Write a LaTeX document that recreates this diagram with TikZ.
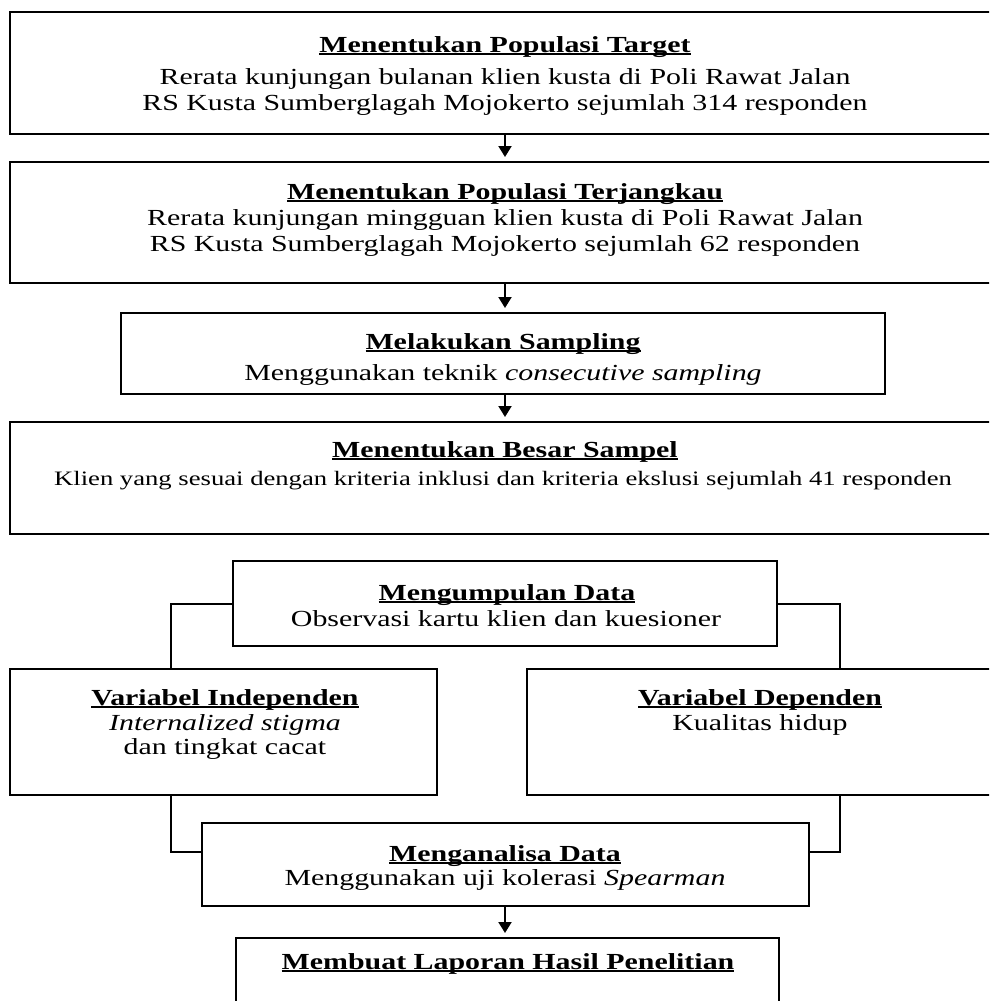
\documentclass[tikz,border=0pt]{standalone}
\usepackage{fontspec}
\setmainfont{Liberation Serif}[FakeStretch=1.3]
\usetikzlibrary{arrows.meta}
\newcommand\ttl[1]{\sbox0{\bfseries #1}\rlap{\rule[-3.2pt]{\wd0}{1.8pt}}\usebox0}
\begin{document}
\begin{tikzpicture}[x=1pt,y=-1pt,
  box/.style={draw, line width=2pt, inner sep=0pt},
  txt/.style={anchor=base, inner sep=0pt, font=\fontsize{23}{26}\selectfont},
  txts/.style={anchor=base, inner sep=0pt, font=\fontsize{20.5}{24}\selectfont},
  arr/.style={line width=2pt, -{Triangle[length=11pt,width=13pt]}, shorten >=4pt},
  conn/.style={line width=2pt}]
\useasboundingbox (0,0) rectangle (989,1001);
\fill[white] (0,0) rectangle (989,1001);
\clip (0,0) rectangle (989,1001);
% boxes
\node[box, minimum width=990pt, minimum height=122pt] (b1) at (505,73) {};
\node[box, minimum width=990pt, minimum height=121pt] (b2) at (505,222.5) {};
\node[box, minimum width=764pt, minimum height=81pt] (b3) at (503,353.5) {};
\node[box, minimum width=990pt, minimum height=112pt] (b4) at (505,478) {};
\node[box, minimum width=544pt, minimum height=85pt] (b5) at (505,603.5) {};
\node[box, minimum width=427pt, minimum height=126pt] (b6) at (223.5,731.5) {};
\node[box, minimum width=466pt, minimum height=126pt] (b7) at (760,732) {};
\node[box, minimum width=607pt, minimum height=83pt] (b8) at (505.5,864.5) {};
\node[box, minimum width=543pt, minimum height=92pt] (b9) at (507.5,984) {};
% texts
\node[txt] (t1a) at (505,52) {\ttl{Menentukan Populasi Target}};
\node[txt] (t1b) at (505,84) {Rerata kunjungan bulanan klien kusta di Poli Rawat Jalan};
\node[txt] (t1c) at (505,110) {RS Kusta Sumberglagah Mojokerto sejumlah 314 responden};
\node[txt] (t2a) at (505,199) {\ttl{Menentukan Populasi Terjangkau}};
\node[txt] (t2b) at (505,225) {Rerata kunjungan mingguan klien kusta di Poli Rawat Jalan};
\node[txt] (t2c) at (505,251) {RS Kusta Sumberglagah Mojokerto sejumlah 62 responden};
\node[txt] (t3a) at (503,349) {\ttl{Melakukan Sampling}};
\node[txt] (t3b) at (503,380) {Menggunakan teknik \textit{consecutive sampling}};
\node[txt] (t4a) at (505,457) {\ttl{Menentukan Besar Sampel}};
\node[txts] (t4b) at (503,485) {Klien yang sesuai dengan kriteria inklusi dan kriteria ekslusi sejumlah 41 responden};
\node[txt] (t5a) at (507,600) {\ttl{Mengumpulan Data}};
\node[txt] (t5b) at (506,626) {Observasi kartu klien dan kuesioner};
\node[txt] (t6a) at (225,705) {\ttl{Variabel Independen}};
\node[txt] (t6b) at (225,730) {\textit{Internalized stigma}};
\node[txt] (t6c) at (225,754) {dan tingkat cacat};
\node[txt] (t7a) at (760,705) {\ttl{Variabel Dependen}};
\node[txt] (t7b) at (760,730) {Kualitas hidup};
\node[txt] (t8a) at (505,861) {\ttl{Menganalisa Data}};
\node[txt] (t8b) at (505,885) {Menggunakan uji kolerasi \textit{Spearman}};
\node[txt] (t9a) at (508,969) {\ttl{Membuat Laporan Hasil Penelitian}};
% helper coordinates
\coordinate (ax) at (505,0);
\coordinate (jl) at (171,0);
\coordinate (jr) at (840,0);
\coordinate (jy) at (0,852);
% arrows
\draw[arr] (b1.south -| ax) -- (b2.north -| ax);
\draw[arr] (b2.south -| ax) -- (b3.north -| ax);
\draw[arr] (b3.south -| ax) -- (b4.north -| ax);
\draw[arr] (b8.south -| ax) -- (b9.north -| ax);
% connectors
\draw[conn] (b5.west) -| (b6.north -| jl);
\draw[conn] (b5.east) -| (b7.north -| jr);
\draw[conn] (b6.south -| jl) |- (b8.west |- jy);
\draw[conn] (b7.south -| jr) |- (b8.east |- jy);
\end{tikzpicture}
\end{document}
